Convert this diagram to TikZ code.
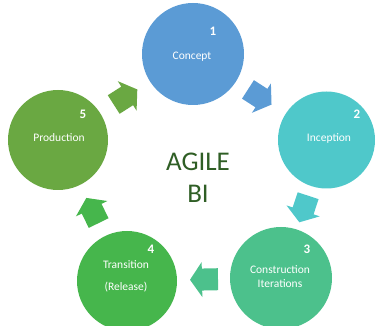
\documentclass[tikz,border=0pt]{standalone}
\usepackage{fontspec}
\setmainfont{Carlito}
\usetikzlibrary{calc}
\definecolor{cA}{HTML}{5B9BD5}
\definecolor{cB}{HTML}{4FC8CA}
\definecolor{cC}{HTML}{4CC18C}
\definecolor{cD}{HTML}{46B64C}
\definecolor{cE}{HTML}{6AA842}
\definecolor{txt}{HTML}{2F5E25}
\newcommand\blockarrow[3]{%
  \fill[#3] let \p1=($(#2)-(#1)$), \n1={atan2(\y1,\x1)}, \p2=($(#1)!0.5!(#2)$) in
    ($(\p2)+(\n1:14pt)$)
    -- ($(\p2)+(\n1:2pt)+(\n1+90:17.5pt)$)
    -- ($(\p2)+(\n1:2pt)+(\n1+90:11pt)$)
    -- ($(\p2)+(\n1+180:14pt)+(\n1+90:11pt)$)
    -- ($(\p2)+(\n1+180:14pt)+(\n1-90:11pt)$)
    -- ($(\p2)+(\n1:2pt)+(\n1-90:11pt)$)
    -- ($(\p2)+(\n1:2pt)+(\n1-90:17.5pt)$)
    -- cycle;}
\tikzset{
  stage/.style={circle, inner sep=0pt, draw=none},
  lbl/.style={text=white, inner sep=0pt, align=center, font=\fontsize{11.5}{14}\selectfont},
  num/.style={text=white, inner sep=0pt, font=\bfseries\fontsize{13}{15}\selectfont},
  title/.style={text=txt, inner sep=0pt, align=center, font=\fontsize{27}{32}\selectfont}
}
\begin{document}
\begin{tikzpicture}[x=1pt, y=-1pt]
\useasboundingbox (0,0) rectangle (376,326);
\clip (0,0) rectangle (376,326);
\node[stage, fill=cA, minimum size=102pt] (c1) at (193,54) {};
\node[stage, fill=cB, minimum size=97pt]  (c2) at (326.5,140) {};
\node[stage, fill=cC, minimum size=102pt] (c3) at (281,278) {};
\node[stage, fill=cD, minimum size=100pt] (c4) at (127,281) {};
\node[stage, fill=cE, minimum size=100pt] (c5) at (58,140) {};

\blockarrow{c1}{c2}{cA}
\blockarrow{c2}{c3}{cB}
\blockarrow{c3}{c4}{cC}
\blockarrow{c4}{c5}{cD}
\blockarrow{c5}{c1}{cE}

\node[num] (n1) at (213,31) {1};
\node[num] (n2) at (357,114) {2};
\node[num] (n3) at (307,249) {3};
\node[num] (n4) at (151,249) {4};
\node[num] (n5) at (83,114) {5};

\node[lbl] (l1) at (192,57) {Concept};
\node[lbl] (l2) at (329,138) {Inception};
\node[lbl] (l3) at (280,277) {Construction\\Iterations};
\node[lbl] (l4) at (126,276) {Transition\\[8pt](Release)};
\node[lbl] (l5) at (59,138) {Production};

\node[title] (t) at (198,178) {AGILE\\BI};
\end{tikzpicture}
\end{document}
